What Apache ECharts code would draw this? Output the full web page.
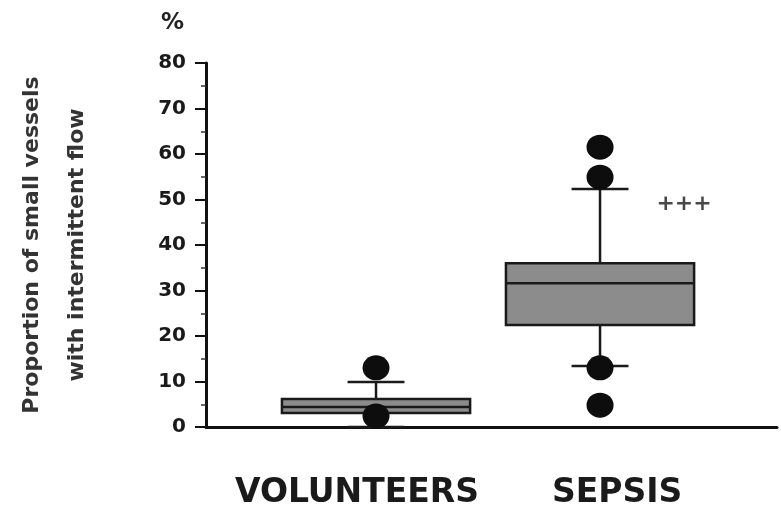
<!DOCTYPE html>
<html>
<head>
<meta charset="utf-8">
<script src="https://cdn.jsdelivr.net/npm/echarts@6/dist/echarts.min.js"></script>
<style>html,body{margin:0;padding:0;background:#fff}#c{width:781px;height:510px}</style>
</head>
<body>
<div id="c"></div>
<script>
// ---- data ----
const categories = ['VOLUNTEERS', 'SEPSIS'];
const groupPositions = [1, 2];
// [lower whisker, Q1, median, Q3, upper whisker]
const volunteersBox = [0, 3.1, 4.4, 6.15, 9.9];
const sepsisBox = [13.4, 22.4, 31.6, 36.0, 52.3];
const volunteersOutliers = [13.0, 2.4];
const sepsisOutliers = [61.5, 54.9, 13.0, 4.8];
const yTicks = [0, 10, 20, 30, 40, 50, 60, 70, 80];
const yTitle = 'Proportion of small vessels\nwith intermittent flow';
const yUnit = '%';
const significance = { label: '+++', x: 2.375, y: 49 };

// ---- layout helpers (style, not data) ----
const labelPositions = [0.915, 2.076];
const boxHalf = 0.42, capHalf = 0.127;

const boxes = [volunteersBox, sepsisBox];
const boxData = boxes.map((b, i) => [groupPositions[i]].concat(b));
const outlierData = [];
volunteersOutliers.forEach(v => outlierData.push([groupPositions[0], v]));
sepsisOutliers.forEach(v => outlierData.push([groupPositions[1], v]));

const chart = echarts.init(document.getElementById('c'));
const stroke = '#1a1a1a';
chart.setOption({
  animation: false,
  backgroundColor: '#fff',
  title: {
    text: yUnit, left: 156, top: 7,
    textStyle: { fontFamily: 'DejaVu Sans', fontWeight: 'bold', fontSize: 23, color: '#222' }
  },
  grid: { left: 206, right: 4, top: 63, bottom: 83 },
  xAxis: {
    type: 'value', min: 0.241, max: 2.79,
    splitLine: { show: false },
    axisLine: { show: true, onZero: false, lineStyle: { color: '#111', width: 3 } },
    axisTick: { show: false },
    axisLabel: {
      customValues: labelPositions,
      margin: 50,
      fontFamily: 'DejaVu Sans', fontWeight: 'bold', fontSize: 33, color: '#1a1a1a',
      formatter: function (v) {
        let best = 0;
        labelPositions.forEach((p, i) => { if (Math.abs(p - v) < Math.abs(labelPositions[best] - v)) best = i; });
        return categories[best];
      }
    }
  },
  yAxis: {
    type: 'value', min: yTicks[0], max: yTicks[yTicks.length - 1], interval: yTicks[1] - yTicks[0],
    name: yTitle, nameLocation: 'middle', nameGap: 106,
    nameTextStyle: { fontFamily: 'DejaVu Sans', fontWeight: 'bold', fontSize: 22, lineHeight: 45, color: '#333' },
    splitLine: { show: false },
    axisLine: { show: true, lineStyle: { color: '#111', width: 3 } },
    axisTick: { show: true, inside: false, length: 11, lineStyle: { color: '#111', width: 2 } },
    minorTick: { show: true, splitNumber: 2, length: 5, lineStyle: { color: '#333', width: 1.5 } },
    axisLabel: { margin: 20, fontFamily: 'DejaVu Sans', fontWeight: 'bold', fontSize: 20, color: '#1a1a1a' }
  },
  series: [
    {
      type: 'custom',
      data: boxData,
      encode: { x: 0, y: [1, 2, 3, 4, 5] },
      z: 2,
      renderItem: function (params, api) {
        const x = api.value(0);
        const lo = api.value(1), q1 = api.value(2), md = api.value(3), q3 = api.value(4), hi = api.value(5);
        const p = (xx, yy) => api.coord([xx, yy]);
        const st = { stroke: stroke, lineWidth: 2.5, fill: null };
        const tl = p(x - boxHalf, q3), br = p(x + boxHalf, q1);
        const line = (a, b) => ({ type: 'line', shape: { x1: a[0], y1: a[1], x2: b[0], y2: b[1] }, style: st });
        return {
          type: 'group',
          children: [
            line(p(x, q3), p(x, hi)),
            line(p(x, lo), p(x, q1)),
            line(p(x - capHalf, hi), p(x + capHalf, hi)),
            line(p(x - capHalf, lo), p(x + capHalf, lo)),
            { type: 'rect', shape: { x: tl[0], y: tl[1], width: br[0] - tl[0], height: br[1] - tl[1] },
              style: { fill: '#8c8c8c', stroke: stroke, lineWidth: 2.5 } },
            line(p(x - boxHalf, md), p(x + boxHalf, md))
          ]
        };
      }
    },
    {
      type: 'scatter',
      data: outlierData,
      symbol: 'circle',
      symbolSize: [27, 25],
      itemStyle: { color: '#0d0d0d', opacity: 1 },
      z: 3
    },
    {
      type: 'scatter',
      data: [[significance.x, significance.y]],
      symbol: 'circle',
      symbolSize: 2,
      itemStyle: { color: 'rgba(0,0,0,0)' },
      label: {
        show: true, position: 'inside', formatter: significance.label,
        fontFamily: 'DejaVu Sans', fontWeight: 'bold', fontSize: 22, color: '#1a1a1a'
      },
      z: 3
    }
  ]
});
</script>
</body>
</html>
